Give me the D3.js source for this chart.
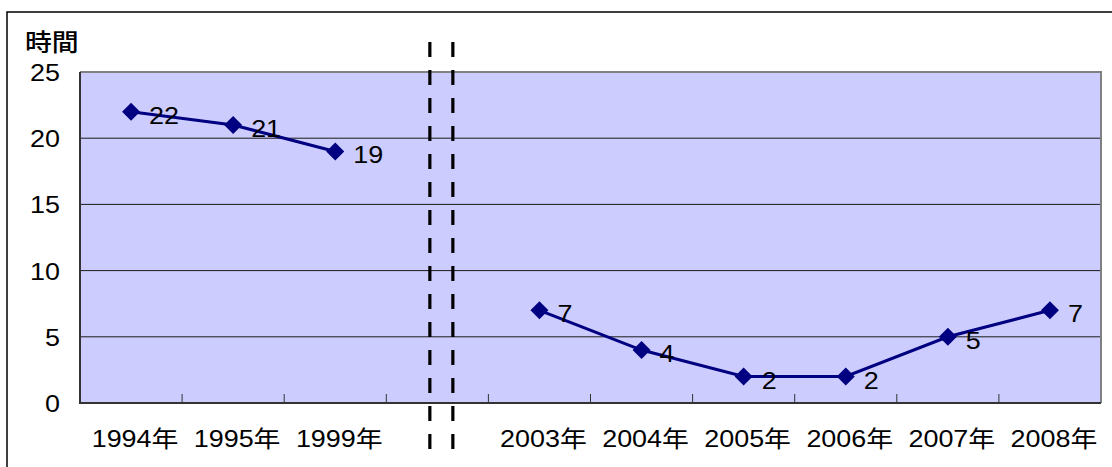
<!DOCTYPE html>
<html>
<head>
<meta charset="utf-8">
<script src="https://cdn.jsdelivr.net/npm/d3@7/dist/d3.min.js"></script>
<style>
  html, body { margin: 0; padding: 0; background: #fff; }
  svg { display: block; }
  text { font-family: "Liberation Sans", Arial, "Noto Sans CJK JP", sans-serif; fill: #000; }
</style>
</head>
<body>
<svg id="chart" width="1112" height="467"></svg>
<script>
// Survey years; the empty slot marks the break between the two periods
const categories = ["1994年", "1995年", "1999年", "", "2003年", "2004年", "2005年", "2006年", "2007年", "2008年"];
const hours = [22, 21, 19, null, 7, 4, 2, 2, 5, 7];
const yTicks = [0, 5, 10, 15, 20, 25];
const yTitle = "時間";

const svg = d3.select("#chart");
const plot = { left: 80, top: 72, right: 1101, bottom: 403 };
const stretch = 1.17; // horizontal text stretch
const fontSize = 23;

const x = d3.scaleBand().domain(categories).range([plot.left, plot.right]).padding(0);
const y = d3.scaleLinear().domain([0, 25]).range([plot.bottom, plot.top]);
const cx = c => x(c) + x.bandwidth() / 2;

// outer frame
svg.append("rect")
  .attr("x", 7).attr("y", 12).attr("width", 1120).attr("height", 470)
  .attr("fill", "none").attr("stroke", "#000").attr("stroke-width", 1.5);

// plot background
svg.append("rect")
  .attr("x", plot.left).attr("y", plot.top)
  .attr("width", plot.right - plot.left).attr("height", plot.bottom - plot.top)
  .attr("fill", "#ccccff");

// horizontal gridlines
svg.append("g").selectAll("line")
  .data(yTicks.filter(t => t > 0 && t < 25))
  .join("line")
  .attr("x1", plot.left).attr("x2", plot.right)
  .attr("y1", d => y(d)).attr("y2", d => y(d))
  .attr("stroke", "#1a1a1a").attr("stroke-width", 1);

// top and right borders of the plot area
svg.append("path")
  .attr("d", `M${plot.left},${y(25)}H${plot.right}V${plot.bottom}`)
  .attr("fill", "none").attr("stroke", "#808080").attr("stroke-width", 2);

// category boundary ticks (pointing up into the plot)
svg.append("g").selectAll("line")
  .data(categories.slice(1))
  .join("line")
  .attr("x1", d => x(d)).attr("x2", d => x(d))
  .attr("y1", plot.bottom).attr("y2", plot.bottom - 9)
  .attr("stroke", "#333").attr("stroke-width", 1);

// left and bottom axis lines
svg.append("path")
  .attr("d", `M${plot.left},${y(25)}V${plot.bottom}H${plot.right}`)
  .attr("fill", "none").attr("stroke", "#333").attr("stroke-width", 2);

// y tick labels
svg.append("g").selectAll("text")
  .data(yTicks)
  .join("text")
  .attr("transform", d => `translate(60,${y(d) + 1}) scale(${stretch},1)`)
  .attr("text-anchor", "end")
  .attr("dy", "0.35em")
  .attr("font-size", fontSize)
  .text(d => d);

// y title
svg.append("text")
  .attr("transform", `translate(25,51) scale(1.12,1)`)
  .attr("font-family", "'Noto Sans CJK JP', sans-serif")
  .attr("font-weight", 500)
  .attr("font-size", 24)
  .text(yTitle);

// x category labels
svg.append("g").selectAll("text")
  .data(categories)
  .join("text")
  .attr("transform", d => `translate(${cx(d) + 4},${439}) scale(${stretch},1)`)
  .attr("text-anchor", "middle")
  .attr("dy", "0.35em")
  .attr("font-size", fontSize)
  .text(d => d);

// break markers: two dashed verticals through the empty slot
const gapCenter = cx(categories[3]);
svg.append("g").selectAll("line")
  .data([gapCenter - 7.5, gapCenter + 15.5])
  .join("line")
  .attr("x1", d => d).attr("x2", d => d)
  .attr("y1", 42).attr("y2", 450)
  .attr("stroke", "#000").attr("stroke-width", 3.2)
  .attr("stroke-dasharray", "15,13");

// series line, broken at the missing slot
const pts = categories.map((c, i) => ({ c, v: hours[i] }));
const line = d3.line()
  .defined(d => d.v !== null)
  .x(d => cx(d.c))
  .y(d => y(d.v));

svg.append("path")
  .datum(pts)
  .attr("d", line)
  .attr("fill", "none")
  .attr("stroke", "#000080")
  .attr("stroke-width", 3);

const valid = pts.filter(d => d.v !== null);

// diamond markers
svg.append("g").selectAll("path")
  .data(valid)
  .join("path")
  .attr("transform", d => `translate(${cx(d.c)},${y(d.v)})`)
  .attr("d", "M0,-9L9,0L0,9L-9,0Z")
  .attr("fill", "#000080");

// value labels
svg.append("g").selectAll("text")
  .data(valid)
  .join("text")
  .attr("transform", d => `translate(${cx(d.c) + 18},${y(d.v) + 4}) scale(${stretch},1)`)
  .attr("dy", "0.35em")
  .attr("font-size", fontSize)
  .text(d => d.v);
</script>
</body>
</html>
